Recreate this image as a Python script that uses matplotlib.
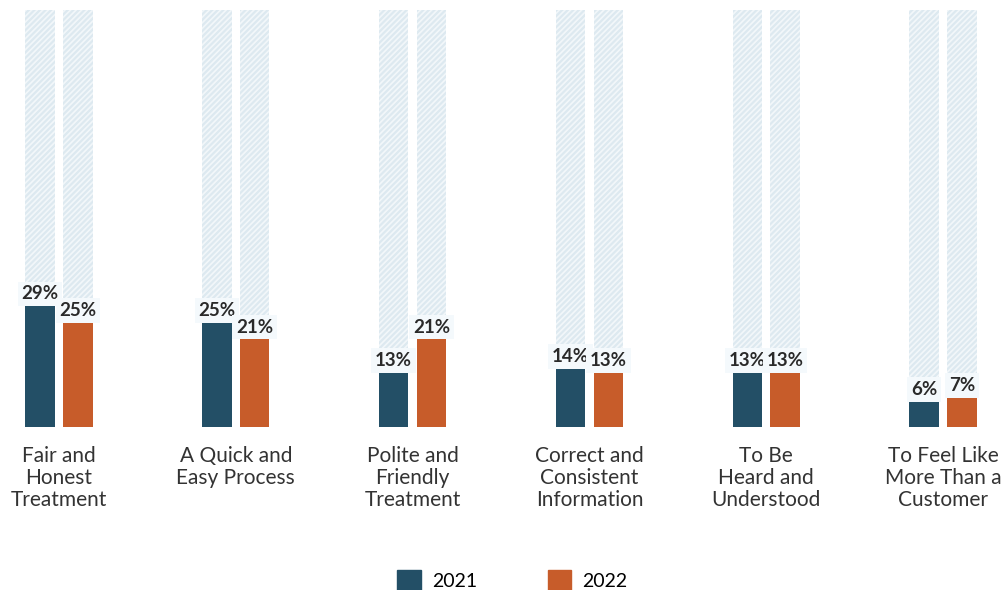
import matplotlib
matplotlib.use('Agg')
import matplotlib.pyplot as plt
import numpy as np
from matplotlib.patches import Patch

plt.rcParams['font.family'] = ['Lato', 'DejaVu Sans']
plt.rcParams['hatch.linewidth'] = 1.6

categories = ['Fair and\nHonest\nTreatment', 'A Quick and\nEasy Process',
              'Polite and\nFriendly\nTreatment', 'Correct and\nConsistent\nInformation',
              'To Be\nHeard and\nUnderstood', 'To Feel Like\nMore Than a\nCustomer']
vals_2021 = [29, 25, 13, 14, 13, 6]
vals_2022 = [25, 21, 21, 13, 13, 7]
full = 100

c2021 = '#234f66'
c2022 = '#c75c2a'

fig = plt.figure(figsize=(10.01, 5.90), dpi=100)
ax = fig.add_axes([0, 0.2763, 1, 0.7068])

x = np.arange(len(categories))
w = 0.166
off = 0.107

for dx in (-off, off):
    ax.bar(x + dx, [full] * len(x), width=w, color='#f2f7fa', edgecolor='#dde9f0',
           hatch='//////', linewidth=0, zorder=1)

b1 = ax.bar(x - off, vals_2021, width=w, color=c2021, zorder=2)
b2 = ax.bar(x + off, vals_2022, width=w, color=c2022, zorder=2)

for bars, vals in ((b1, vals_2021), (b2, vals_2022)):
    for r, v in zip(bars, vals):
        ax.text(r.get_x() + r.get_width() / 2, v + 0.9, f'{v}%', ha='center', va='bottom',
                fontsize=13.5, fontweight='bold', color='#2a2a2a', zorder=3,
                bbox=dict(boxstyle='square,pad=0.2', facecolor='#f4f9fc', edgecolor='none'))

for i, lab in enumerate(categories):
    ax.text(x[i], -4.5, lab, ha='center', va='top', fontsize=15, color='#333333',
            linespacing=1.12)

ax.set_xlim(-0.334, 5.328)
ax.set_ylim(0, 100)
ax.axis('off')

handles = [Patch(color=c2021, label='2021'), Patch(color=c2022, label='2022')]
fig.legend(handles=handles, loc='lower center', bbox_to_anchor=(0.512, -0.03), ncol=2,
           frameon=False, fontsize=14, handlelength=1.2, handleheight=1.2,
           columnspacing=3.6, handletextpad=0.6)

fig.savefig('out.png', dpi=100)
